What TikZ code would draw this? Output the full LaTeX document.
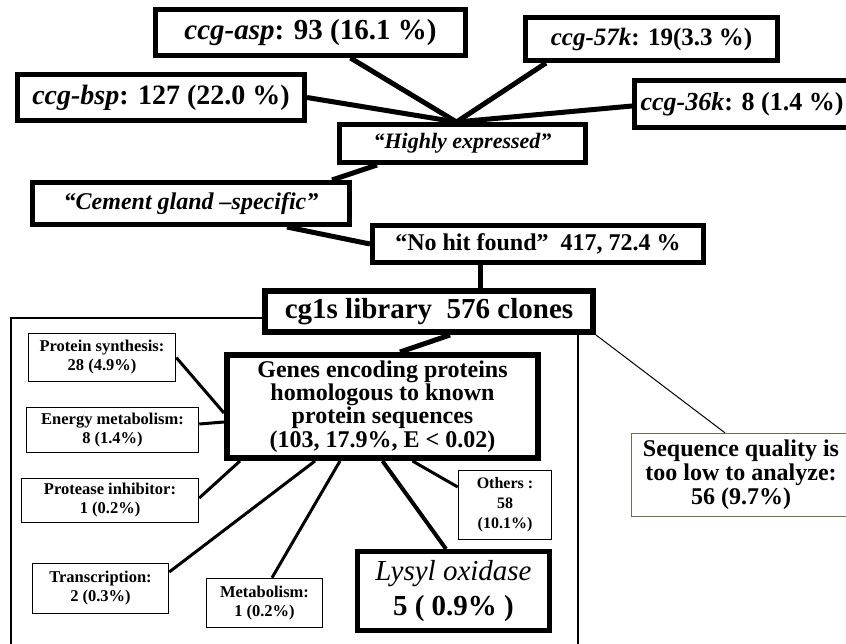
\documentclass[tikz,border=0pt]{standalone}
\usepackage{fontspec}
\setmainfont{Liberation Serif}
\usepackage{tikz}
\usepackage{xcolor}
\definecolor{olivebox}{RGB}{110,110,80}
\tikzset{
    %Define style for the thick boxes
    fatbox/.style={
        rectangle,
        draw, line width=5pt,
        fill=white,
        inner sep=0pt,
        align=center,
        font=\bfseries},
    %Define style for the small category boxes
    catbox/.style={
        rectangle,
        draw, line width=1.5pt,
        fill=white,
        inner sep=0pt,
        align=center,
        font=\bfseries\fontsize{16.5}{19}\selectfont},
    % Define link styles
    fatlink/.style={line width=5pt},
    catlink/.style={line width=3pt},
    thinlink/.style={line width=1pt}
}

\begin{document}
\begin{tikzpicture}[x=1pt,y=-1pt]
    \useasboundingbox (0,0) rectangle (846,643);
    % frame round the homology branch
    \draw[line width=1.3pt] (11,318) rectangle (578,670);
    %top cluster
    \node[fatbox, minimum width=310, minimum height=46, font=\bfseries\fontsize{29}{33}\selectfont]
        (asp) at (310.5,32.5) {\textit{ccg-asp}: 93 (16.1 \%)};
    \node[fatbox, minimum width=252, minimum height=43, font=\bfseries\fontsize{25}{29}\selectfont]
        (k57) at (651.5,39) {\textit{ccg-57k}: 19(3.3 \%)};
    \node[fatbox, minimum width=287, minimum height=46, font=\bfseries\fontsize{28}{32}\selectfont]
        (bsp) at (161,97.5) {\textit{ccg-bsp}: 127 (22.0 \%)};
    \node[fatbox, minimum width=215, minimum height=47, font=\bfseries\fontsize{26}{30}\selectfont]
        (k36) at (742,104) {\textit{ccg-36k}: 8 (1.4 \%)};
    \node[fatbox, minimum width=246, minimum height=38, font=\bfseries\itshape\fontsize{22}{26}\selectfont]
        (high) at (462.5,143.5) {``Highly expressed''};
    \node[fatbox, minimum width=317, minimum height=42, font=\bfseries\itshape\fontsize{24}{28}\selectfont]
        (cement) at (191,203.5) {``Cement gland --specific''};
    \node[fatbox, minimum width=331, minimum height=37, font=\bfseries\fontsize{24}{28}\selectfont]
        (nohit) at (538,244) {``No hit found''~~417, 72.4 \%};
    \coordinate (hub) at ([xshift=-6pt]high.north);
    \draw[fatlink] ([xshift=40pt]asp.south) -- (hub);
    \draw[fatlink] (bsp.east) -- (hub);
    \draw[fatlink] ([xshift=23pt]k57.south west) -- (hub);
    \draw[fatlink] ([yshift=-2pt]k36.west) -- (hub);
    \draw[fatlink] ([xshift=40pt]high.south west) -- ([xshift=-20pt]cement.north east);
    \draw[fatlink] ([xshift=96pt]cement.south) -- (nohit.west);
    %library and its branches
    \node[fatbox, line width=6pt, minimum width=328, minimum height=41, font=\bfseries\fontsize{29}{33}\selectfont]
        (lib) at (429,311.5) {cg1s library~~576 clones};
    \draw[fatlink] ([xshift=-58pt]nohit.south) -- ([xshift=-58pt]nohit.south |- lib.north);
    \node[fatbox, line width=6pt, minimum width=311, minimum height=103, font=\bfseries\fontsize{24}{23.3}\selectfont]
        (genes) at (382.5,406.5) {Genes encoding proteins\\homologous to known\\protein sequences\\(103, 17.9\%, E {\fontspec{Liberation Serif}<} 0.02)};
    \draw[fatlink] ([xshift=21pt]lib.south) -- ([xshift=17.5pt]genes.north);
    \node[catbox, line width=1.3pt, draw=olivebox, minimum width=219, minimum height=83, font=\bfseries\fontsize{24}{24}\selectfont]
        (seq) at (741,475) {Sequence quality is\\too low to analyze:\\56 (9.7\%)};
    \draw[thinlink] (lib.south east) -- ([xshift=-16pt]seq.north);
    %categories
    \node[catbox, minimum width=147, minimum height=48] (protsyn) at (102,357.5) {Protein synthesis:\\28 (4.9\%)};
    \node[catbox, minimum width=172, minimum height=45] (energy) at (112.5,430) {Energy metabolism:\\8 (1.4\%)};
    \node[catbox, minimum width=177, minimum height=44] (protease) at (110,500.5) {Protease inhibitor:\\1 (0.2\%)};
    \node[catbox, minimum width=136, minimum height=50] (transcr) at (100.5,588.5) {Transcription:\\2 (0.3\%)};
    \node[catbox, minimum width=116, minimum height=49] (metab) at (264.5,603) {Metabolism:\\1 (0.2\%)};
    \node[catbox, minimum width=93, minimum height=69, font=\bfseries\fontsize{16}{20}\selectfont]
        (others) at (505,505) {Others :\\58\\(10.1\%)};
    \node[fatbox, minimum width=192, minimum height=79, font=\bfseries\fontsize{29}{35}\selectfont]
        (lysyl) at (453.5,591) {{\mdseries\itshape Lysyl oxidase}\\5 ( 0.9\% )};
    \draw[catlink] (protsyn.east) -- ([yshift=-6.5pt]genes.west);
    \draw[catlink] ([yshift=6pt]energy.east) -- ([yshift=-15.5pt]genes.west);
    \draw[catlink] ([yshift=2.5pt]protease.east) -- ([xshift=16pt]genes.south west);
    \draw[catlink] ([yshift=16.5pt]transcr.east) -- ([xshift=-67.5pt]genes.south);
    \draw[catlink] ([xshift=7.5pt]metab.north) -- ([xshift=-42.5pt]genes.south);
    \draw[line width=4pt] (genes.south) -- ([xshift=-7.5pt]lysyl.north);
    \draw[catlink] ([xshift=30pt]genes.south) -- ([yshift=18pt]others.west);
\end{tikzpicture}
\end{document}
